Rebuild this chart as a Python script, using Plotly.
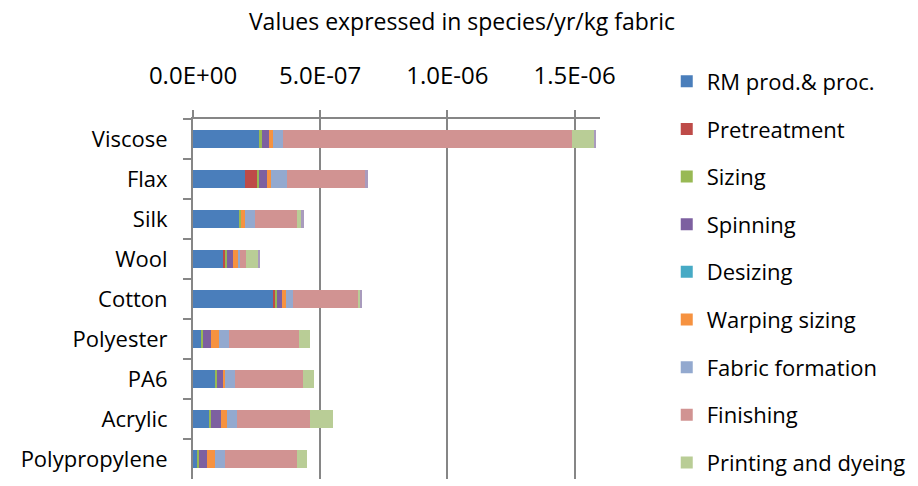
import plotly.graph_objects as go

# fibre types, top to bottom
fibres = ['Viscose', 'Flax', 'Silk', 'Wool', 'Cotton', 'Polyester', 'PA6', 'Acrylic', 'Polypropylene']

# values in 1E-7 species/yr/kg fabric
rm_prod = [2.60, 2.06, 1.81, 1.18, 3.16, 0.33, 0.87, 0.64, 0.16]
pretreatment = [0.00, 0.47, 0.00, 0.07, 0.07, 0.00, 0.00, 0.00, 0.00]
sizing = [0.10, 0.07, 0.09, 0.10, 0.09, 0.08, 0.09, 0.08, 0.09]
spinning = [0.30, 0.31, 0.00, 0.24, 0.16, 0.30, 0.22, 0.38, 0.30]
desizing = [0.00, 0.00, 0.00, 0.00, 0.00, 0.00, 0.00, 0.00, 0.00]
warping = [0.16, 0.16, 0.16, 0.16, 0.17, 0.31, 0.08, 0.24, 0.31]
fabric_form = [0.39, 0.64, 0.39, 0.08, 0.30, 0.39, 0.39, 0.39, 0.39]
finishing = [11.35, 3.07, 1.65, 0.24, 2.52, 2.76, 2.68, 2.85, 2.85]
printing = [0.88, 0.00, 0.16, 0.49, 0.09, 0.41, 0.41, 0.94, 0.39]
other = [0.08, 0.08, 0.09, 0.08, 0.08, 0.00, 0.00, 0.00, 0.00]

series = [
    ('RM prod.& proc.', rm_prod, '#4A7EBB'),
    ('Pretreatment', pretreatment, '#BE4B48'),
    ('Sizing', sizing, '#98B954'),
    ('Spinning', spinning, '#7D60A0'),
    ('Desizing', desizing, '#46AAC5'),
    ('Warping sizing', warping, '#F69240'),
    ('Fabric formation', fabric_form, '#93A9CF'),
    ('Finishing', finishing, '#D19392'),
    ('Printing and dyeing', printing, '#B9CD96'),
    ('Other', other, '#A99BBD'),
]

tick_vals = [0, 5e-7, 1e-6, 1.5e-6]
tick_text = ['0.0E+00', '5.0E-07', '1.0E-06', '1.5E-06']

FONT = 'Open Sans'
PLOT_TOP, PLOT_BOT = 119, 484

fig = go.Figure()
legends = {}
for i, (name, vals, col) in enumerate(series):
    key = 'legend' if i == 0 else f'legend{i + 1}'
    fig.add_trace(go.Bar(
        y=fibres,
        x=[v * 1e-7 for v in vals],
        name=name,
        orientation='h',
        marker=dict(color=col, line=dict(width=0)),
        legend=key,
        showlegend=(name != 'Other'),
    ))
    if name != 'Other':
        # one legend box per entry so the spacing matches the original
        y_px = 81 + i * 48.3
        legends[key] = dict(
            x=1.164, xanchor='left',
            y=(PLOT_BOT - y_px) / (PLOT_BOT - PLOT_TOP), yanchor='middle',
            font=dict(family=FONT, size=22, color='black'),
            bgcolor='rgba(0,0,0,0)',
        )

fig.update_layout(
    width=918, height=486,
    barmode='stack',
    bargap=0.55,
    showlegend=True,
    plot_bgcolor='white',
    paper_bgcolor='white',
    font=dict(family=FONT, size=22, color='black'),
    margin=dict(l=193, r=318, t=PLOT_TOP, b=486 - PLOT_BOT),
    title=dict(text='Values expressed in species/yr/kg fabric', x=462 / 918, xanchor='center',
               y=1 - 22 / 486, yanchor='middle', font=dict(size=23)),
    xaxis=dict(
        side='top', range=[0, 1.6e-6], automargin=False,
        tickvals=tick_vals, ticktext=tick_text, tickfont=dict(size=24),
        showgrid=True, gridcolor='#868686', gridwidth=2,
        showline=True, linecolor='#868686', linewidth=2,
        ticks='outside', ticklen=7, tickcolor='#868686', tickwidth=2,
        ticklabelstandoff=16,
        zeroline=False,
    ),
    yaxis=dict(
        categoryorder='array', categoryarray=fibres, autorange='reversed', automargin=False,
        showline=True, linecolor='#868686', linewidth=2,
        ticks='outside', ticklen=8, tickcolor='#868686', tickwidth=2,
        tickson='boundaries', showgrid=False,
        ticklabelstandoff=19,
    ),
    **legends,
)

# the page's default body margin would shift the chart by 8px
fig.write_html('out.html', config={'displayModeBar': False},
               post_script="document.body.style.margin='0px';")
